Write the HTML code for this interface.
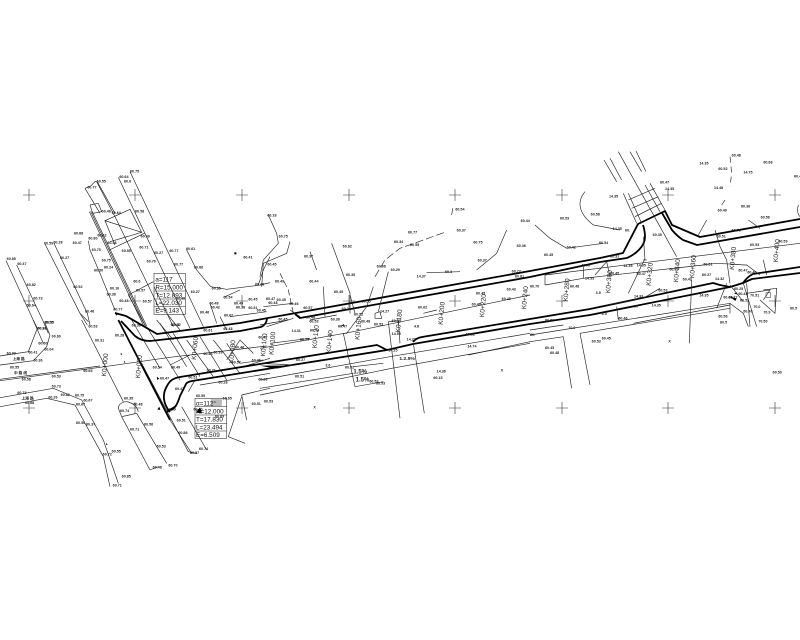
<!DOCTYPE html>
<html><head><meta charset="utf-8"><style>
html,body{margin:0;padding:0;background:#fff;width:800px;height:640px;overflow:hidden}
svg{display:block;font-family:"Liberation Sans",sans-serif}
.t polyline,.t path,.t line{fill:none;stroke:#222;stroke-width:.65;vector-effect:non-scaling-stroke}
.k polyline,.k path{fill:none;stroke:#000;stroke-width:1.8;stroke-linejoin:round;vector-effect:non-scaling-stroke}
.c path{fill:none;stroke:#333;stroke-width:.6}
.l text{font-size:11px;font-weight:bold;fill:#222}
.b text{font-size:19px;fill:#111}
.v text{font-size:20px;fill:#222}
</style></head><body>
<svg width="800" height="640" viewBox="0 0 800 640" xmlns="http://www.w3.org/2000/svg">
<g class="c"><path d="M23 195h12M29 189v12M129 195h12M135 189v12M236 195h12M242 189v12M343 195h12M349 189v12M449 195h12M455 189v12M556 195h12M562 189v12M662 195h12M668 189v12M769 195h12M775 189v12
M23 301h12M29 295v12M129 301h12M135 295v12M236 301h12M242 295v12M343 301h12M349 295v12M449 301h12M455 295v12M556 301h12M562 295v12M662 301h12M668 295v12M769 301h12M775 295v12
M23 408h12M29 402v12M129 408h12M135 402v12M236 408h12M242 402v12M343 408h12M349 402v12M449 408h12M455 402v12M556 408h12M562 402v12M662 408h12M668 402v12M769 408h12M775 402v12"/></g>

<!-- zoom 1 -->
<g transform="translate(0,170) scale(.33333)">
<g class="t">
<polyline points="18,272 95,440 130,520"/><polyline points="50,285 130,455 145,490"/>
<polyline points="135,222 240,430 262,465"/><polyline points="162,220 262,430 270,465"/><polyline points="240,430 265,455"/>
<polyline points="255,55 272,48 285,35 292,35 345,130"/><polyline points="255,55 300,130"/>
<polyline points="270,105 295,100 305,125 278,130 270,105"/>
<polyline points="268,125 432,470"/><polyline points="272,124 436,468"/><polyline points="276,124 440,468"/>
<polyline points="290,35 350,150 480,420"/>
<polyline points="355,22 570,475"/><polyline points="390,5 610,470"/>
<polyline points="315,152 390,118 425,187 315,152 345,225"/><polyline points="328,240 433,190"/><polyline points="330,215 425,187"/>
<polyline points="265,212 270,240 300,310 345,420"/>
<polyline points="560,240 590,300 632,350 680,358 780,345 810,338"/><polyline points="810,260 790,300 775,345"/>
<polyline points="385,375 460,335"/><polyline points="385,375 440,475"/>
<polyline points="675,380 720,360"/><polyline points="690,440 800,425"/><polyline points="630,400 650,460"/><polyline points="462,350 520,470"/><polyline points="500,430 540,480"/><polyline points="660,440 680,480"/>
</g>
<g class="l">
<text x="20" y="270">60.85</text><text x="52" y="285">60.47</text><text x="80" y="348">60.82</text><text x="100" y="388">60.73</text><text x="80" y="410">60.64</text><text x="135" y="460">60.32</text><text x="112" y="478">60.91</text>
<text x="132" y="223">60.59</text><text x="160" y="220">60.28</text><text x="222" y="194">60.68</text><text x="218" y="222">60.47</text><text x="180" y="267">60.27</text><text x="220" y="354">60.52</text><text x="255" y="428">60.46</text><text x="265" y="472">60.53</text>
<text x="262" y="55">60.77</text><text x="290" y="37">60.55</text><text x="358" y="24">60.64</text><text x="390" y="8">60.75</text><text x="372" y="38">60.6</text>
<text x="305" y="128">60.48</text><text x="335" y="132">60.64</text><text x="405" y="128">60.58</text><text x="422" y="202">60.49</text><text x="292" y="200">60.62</text>
<text x="265" y="208">60.80</text><text x="275" y="243">60.75</text><text x="322" y="222">60.48</text><text x="365" y="246">60.55</text><text x="418" y="236">60.71</text><text x="462" y="252">60.27</text><text x="508" y="246">60.77</text><text x="558" y="240">60.61</text>
<text x="305" y="275">60.75</text><text x="440" y="277">60.76</text><text x="522" y="286">60.77</text><text x="582" y="295">60.66</text><text x="282" y="304">60.50</text><text x="312" y="296">60.24</text>
<text x="400" y="338">60.6</text><text x="408" y="364">60.57</text><text x="330" y="358">60.16</text><text x="320" y="377">60.38</text><text x="340" y="422">60.77</text><text x="358" y="396">60.48</text><text x="428" y="398">60.57</text><text x="395" y="470">60.36</text>
<text x="730" y="265">60.41</text><text x="635" y="358">60.35</text><text x="765" y="347">60.48</text><text x="572" y="369">60.27</text><text x="670" y="385">60.54</text><text x="702" y="403">60.49</text><text x="745" y="392">60.45</text><text x="628" y="404">60.48</text><text x="632" y="416">60.42</text><text x="600" y="430">60.46</text><text x="745" y="417">60.51</text><text x="672" y="440">60.62</text><text x="708" y="415">60.38</text><text x="512" y="468">60.47</text><text x="528" y="388">60.46</text><text x="770" y="425">60.45</text>
</g>
<path d="M703 247h6v6h-6z" fill="#000"/>
<path d="M345 425l8 8-5 4z" fill="#000"/>
<rect x="462" y="310" width="94" height="123" fill="none" stroke="#222" stroke-width="1.6"/>
<path d="M462 340H556M462 363H556M462 387H556M462 410H556" stroke="#222" stroke-width="1.6" fill="none"/>
<g class="b"><text x="466" y="334">a=117</text><text x="466" y="358">R=15.000</text><text x="466" y="382">T=12.893</text><text x="466" y="405">L=22.030</text><text x="466" y="428">E=9.143</text></g>
</g>

<!-- zoom 2 -->
<g transform="translate(0,320) scale(.33333)">
<g class="t">
<polyline points="100,0 112,25 85,95 18,105 0,108"/><polyline points="135,10 150,45 140,80 100,122 0,135"/>
<polyline points="0,182 300,142 510,112 800,78"/><polyline points="0,178 300,138"/>
<polyline points="0,233 160,205 245,240 310,360 355,490"/><polyline points="0,260 140,235 225,255 310,410 330,500"/>
<polyline points="245,0 370,245"/><path d="M355,265 C355,250 375,240 390,248 C405,252 412,265 415,275"/><polyline points="365,290 450,450"/><polyline points="410,280 500,430"/><polyline points="355,265 365,290 410,280"/><polyline points="450,450 475,440"/>
<polyline points="425,130 565,395 590,400"/><polyline points="510,300 575,400"/><polyline points="545,260 620,390"/>
<polyline points="725,225 810,205"/><polyline points="725,230 685,350 735,370"/><polyline points="725,225 740,300"/>
<polyline points="395,0 480,145"/><polyline points="440,20 540,180"/><polyline points="480,10 560,140"/><polyline points="520,40 600,170"/><polyline points="560,60 640,170"/>
<polyline points="600,50 680,180"/><polyline points="640,60 720,160"/>
<polyline points="510,135 570,105"/><polyline points="600,195 810,160"/><polyline points="470,0 520,60"/>
<polyline points="680,70 720,130 790,120"/><polyline points="680,120 720,60 760,100"/><polyline points="730,140 810,115"/><polyline points="565,215 585,180"/>
</g>
<g class="k"><polyline points="355,0 510,300"/></g>
<g class="l">
<text x="20" y="103">60.93</text><text x="85" y="100">60.41</text><text x="30" y="145">60.55</text><text x="100" y="124">60.36</text><text x="112" y="28">60.24</text><text x="133" y="11">60.55</text><text x="155" y="52">60.60</text><text x="115" y="74">60.60</text><text x="133" y="92">60.04</text>
<text x="38" y="120">上海 路</text><text x="42" y="162">中 路 线</text><text x="65" y="182">60.58</text><text x="155" y="172">60.53</text><text x="250" y="156">60.65</text>
<text x="52" y="222">60.79</text><text x="155" y="203">60.73</text><text x="182" y="228">60.82</text><text x="225" y="229">60.75</text><text x="250" y="244">60.67</text><text x="65" y="238">上海 路</text><text x="145" y="236">60.26</text><text x="75" y="252">60.68</text><text x="228" y="256">60.67</text>
<text x="228" y="312">60.56</text><text x="258" y="317">60.37</text><text x="335" y="397">60.55</text><text x="308" y="406">60.72</text><text x="365" y="472">60.85</text><text x="338" y="500">60.71</text>
<text x="372" y="238">60.35</text><text x="400" y="256">60.48</text><text x="360" y="276">60.74</text><text x="390" y="332">60.71</text><text x="432" y="316">60.56</text><text x="470" y="382">60.53</text><text x="505" y="440">60.70</text><text x="458" y="445">60.48</text>
<text x="285" y="64">60.31</text><text x="345" y="50">60.28</text><text x="513" y="146">60.49</text><text x="458" y="146">60.54</text><text x="480" y="178">60.47</text><text x="565" y="175">60.51</text><text x="620" y="155">60.71</text><text x="655" y="190">60.28</text>
<text x="515" y="18">60.42</text><text x="610" y="35">60.61</text><text x="670" y="30">60.48</text><text x="775" y="55">60.47</text><text x="610" y="105">60.43</text><text x="640" y="100">60.39</text><text x="705" y="85">60.46</text><text x="695" y="130">60.57</text><text x="775" y="182">60.33</text><text x="755" y="125">60.36</text>
<text x="588" y="231">60.59</text><text x="668" y="238">60.65</text><text x="580" y="272">60.40</text><text x="645" y="292">60.69</text><text x="755" y="255">60.51</text><text x="535" y="342">60.86</text><text x="597" y="390">60.74</text><text x="570" y="402">60.57</text><text x="530" y="305">60.51</text><text x="500" y="272">60.49</text><text x="525" y="210">60.47</text>
</g>
<g class="v">
<text transform="translate(318,170) rotate(-85)">K0+000</text><text transform="translate(420,175) rotate(-85)">K0+020</text><text transform="translate(588,120) rotate(-85)">K0+060</text><text transform="translate(700,130) rotate(-85)">K0+080</text><text transform="translate(795,110) rotate(-85)">K0+100</text>
</g>
<path d="M472,268l6,-8 3,10zM362,98l5,5-4,2zM372,122l4,5-4,1zM318,368l5,7-4,0z" fill="#000"/>
<path d="M588 278L600 262 606 280zM470 170l8 6-6 4z" fill="#000"/>
<rect x="633" y="238" width="32" height="20" fill="#bbb" stroke="#555" stroke-dasharray="2 1" stroke-width=".5"/>
<rect x="585" y="235" width="95" height="120" fill="none" stroke="#222" stroke-width="1.6"/>
<path d="M585 260H680M585 285H680M585 310H680M585 333H680" stroke="#222" stroke-width="1.6" fill="none"/>
<g class="b"><text x="588" y="256">α=112°</text><text x="588" y="281">R=12.000</text><text x="588" y="305">T=17.830</text><text x="588" y="329">L=23.494</text><text x="588" y="351">E=6.509</text></g>
</g>

<!-- thick roads -->
<g class="k">
<polyline points="115,313 126,316 157,334 240,323 530,271 600,258 623,253 638,224 665,211 672,225 700,237 800,219"/>
<path d="M121,321 L135,336 Q141,341 150,341 L240,331 L261,327 Q266,325 267,319"/>
<path d="M295,314 L300,318 L530,277 L600,262 L627,258 C636,254 645,246 645,237 C645,232 644,228 643,225"/>
<path d="M662,213 L672,230 C677,236 680,238 683,240 L697,245 L800,227"/>
<path d="M170,412 C163,404 162,394 167,386 C170,380 174,378 180,377 L260,364 L377,345 L387,350"/>
<path d="M171,410 C176,408 178,402 180,396 L186,384 Q187,382 192,381 L273,368 L387,350 L413,344 L530,324 L590,315 L730,287 L743,283"/>
<path d="M413,342 Q416,338 422,337 L530,319 L590,309 L713,283 L720,285 L730,287"/>
<path d="M743,283 Q747,277 753,274 L800,267"/>
<path d="M743,283 L752,279 L800,273"/>
<polyline points="167,412 176,406"/>
</g>

<!-- zoom 3 -->
<g transform="translate(260,200) scale(.33333)">
<g class="t">
<polyline points="25,45 50,100 55,130 10,180 0,230"/><polyline points="90,125 80,160 10,190 5,260"/>
<polyline points="60,220 85,270 100,340" stroke-dasharray="6 3"/>
<polyline points="150,155 170,210"/><polyline points="215,130 270,280 270,340"/>
<polyline points="345,230 375,180 420,145 560,95" stroke-dasharray="8 3"/>
<polyline points="385,215 355,335"/><polyline points="500,218 600,215"/><polyline points="740,90 710,160 650,210"/><polyline points="578,25 575,45"/>
<polyline points="190,260 195,350"/><polyline points="340,260 320,320 260,400 250,400"/>
<polyline points="0,445 270,397 810,285"/><polyline points="150,360 230,345"/>
<polyline points="0,540 390,470 810,400"/><polyline points="0,585 395,505 810,430"/><polyline points="0,565 280,520"/>
<polyline points="385,365 420,655"/><polyline points="385,365 415,362 420,430"/><polyline points="460,430 493,640"/>
<polyline points="250,400 285,560 370,545"/><polyline points="280,500 370,490"/><polyline points="490,340 530,330"/>
<polyline points="625,465 810,425"/><polyline points="30,430 150,415"/><polyline points="345,340 360,335 365,355 345,355 345,340"/>
<polyline points="0,490 100,495 50,505" /><polyline points="0,375 85,360"/><polyline points="20,380 100,355"/><polyline points="270,285 285,340"/><polyline points="10,320 100,310"/><polyline points="90,330 120,350"/>
</g>
<g class="l">
<text x="22" y="50">60.18</text><text x="56" y="113">60.75</text><text x="22" y="197">60.45</text><text x="45" y="248">60.49</text><text x="132" y="172">60.37</text><text x="148" y="247">60.44</text><text x="222" y="279">60.45</text><text x="248" y="143">60.62</text><text x="258" y="228">60.35</text>
<text x="350" y="203">60.68</text><text x="392" y="213">60.29</text><text x="402" y="129">60.34</text><text x="450" y="138">60.55</text><text x="444" y="101">60.77</text><text x="590" y="95">60.37</text><text x="586" y="32">60.54</text><text x="640" y="130">60.75</text><text x="653" y="184">60.37</text><text x="770" y="141">60.36</text><text x="782" y="66">60.44</text><text x="470" y="232">14.37</text><text x="555" y="219">60.3</text>
<text x="755" y="217">60.72</text><text x="765" y="232">60.61</text><text x="740" y="272">60.43</text><text x="725" y="300">60.45</text><text x="648" y="284">60.45</text><text x="635" y="316">60.46</text><text x="474" y="325">60.62</text><text x="305" y="308">60.55</text><text x="245" y="330">60.71</text><text x="282" y="347">60.52</text>
<text x="18" y="300">60.47</text><text x="25" y="312">60.48</text><text x="50" y="303">60.45</text><text x="88" y="315">60.46</text><text x="130" y="327">60.57</text><text x="138" y="355">60.48</text><text x="148" y="367">60.53</text><text x="55" y="362">60.45</text><text x="212" y="362">60.38</text><text x="234" y="382">60.47</text><text x="303" y="368">60.48</text><text x="342" y="376">60.53</text><text x="360" y="338">14.27</text><text x="395" y="366">60.39</text><text x="395" y="405">14.55</text>
<text x="95" y="396">14.31</text><text x="120" y="422">60.28</text><text x="150" y="395">60.74</text><text x="462" y="383">4.8</text><text x="440" y="421">14.22</text><text x="385" y="454">14.25</text><text x="617" y="406">60.31</text><text x="622" y="442">14.74</text>
<text x="108" y="483">60.27</text><text x="196" y="500">3.6</text><text x="255" y="506">60.52</text><text x="105" y="532">60.51</text><text x="328" y="547">60.53</text><text x="348" y="553">60.53</text><text x="12" y="607">60.53</text><text x="520" y="537">60.15</text><text x="530" y="517">14.36</text><text x="722" y="515">X</text><text x="160" y="625">X</text>
<text x="418" y="480" style="font-size:15px">1.2.5%</text>
<text x="280" y="520" style="font-size:18px">1.5%</text><text x="287" y="545" style="font-size:18px">1.5%</text>
</g>
<g class="v">
<text transform="translate(170,445) rotate(-85)">K0+120</text><text transform="translate(212,460) rotate(-85)">K0+140</text><text transform="translate(298,420) rotate(-85)">K0+160</text><text transform="translate(420,398) rotate(-85)">K0+180</text><text transform="translate(548,375) rotate(-85)">K0+200</text><text transform="translate(672,352) rotate(-85)">K0+220</text><text transform="translate(798,328) rotate(-85)">K0+240</text><text transform="translate(40,465) rotate(-85)">K0+100</text>
</g>
<path d="M240,380l12-8v5zM0,497 L90,497 40,505z" fill="#000"/>
</g>

<!-- zoom 4 -->
<g transform="translate(530,150) scale(.33333)">
<g class="t">
<polyline points="222,30 260,95"/><polyline points="240,25 275,90"/><polyline points="318,3 348,65"/><polyline points="300,5 335,65"/>
<polyline points="265,5 440,320"/><polyline points="485,390 478,580"/>
<polyline points="280,130 320,220"/><polyline points="295,130 335,220"/><polyline points="360,100 405,180"/><polyline points="345,105 390,185"/><polyline points="295,150 375,115"/><polyline points="305,175 385,140"/><polyline points="315,200 395,160"/>
<polyline points="45,375 810,280"/><polyline points="45,405 160,385 520,345"/><polyline points="45,375 45,405"/><polyline points="160,350 160,385"/><polyline points="195,375 230,335 240,380"/>
<polyline points="0,555 600,460 600,490"/><polyline points="150,550 600,475"/><polyline points="150,550 180,705"/><polyline points="100,560 125,715"/><polyline points="0,575 100,560"/><polyline points="0,540 100,525"/>
<polyline points="640,400 680,530"/><polyline points="650,400 660,530"/><polyline points="700,420 740,415 735,490 690,450"/><polyline points="600,460 640,490 655,530"/>
<path d="M165,125 C140,155 145,190 190,225 L270,240"/>
<polyline points="15,225 60,265 110,295 220,280"/>
<polyline points="555,240 570,290 590,330 600,400"/><polyline points="530,210 505,255"/><polyline points="600,20 605,70 600,110" stroke-dasharray="6 4"/><polyline points="585,150 575,165"/><polyline points="655,210 690,235"/>
<path d="M805,165 C800,185 805,195 810,200"/><path d="M520,345 C560,335 620,345 650,345 L690,375"/><polyline points="700,330 710,375"/><polyline points="260,470 265,510"/>
<polyline points="340,330 350,330"/><polyline points="230,465 340,445 390,415"/><polyline points="345,325 295,430"/><polyline points="310,520 600,465"/><polyline points="590,400 560,475"/><polyline points="340,260 345,330"/>
<polyline points="650,430 720,420 700,450"/><polyline points="600,405 640,455"/>
</g>
<g class="l">
<text x="605" y="20">60.48</text><text x="508" y="43">14.35</text><text x="565" y="60">60.52</text><text x="640" y="70">14.75</text><text x="700" y="40">60.68</text><text x="792" y="82">60.45</text><text x="390" y="100">60.47</text><text x="405" y="120">14.35</text><text x="552" y="117">14.48</text><text x="237" y="143">14.35</text><text x="563" y="185">60.49</text><text x="633" y="172">60.36</text><text x="692" y="205">60.56</text>
<text x="90" y="209">60.53</text><text x="182" y="197">60.58</text><text x="248" y="240">14.35</text><text x="285" y="245">60.</text><text x="368" y="258">60.35</text><text x="207" y="282">60.54</text><text x="110" y="296">60.42</text><text x="42" y="318">60.45</text><text x="240" y="322">60.31</text><text x="605" y="245">60.75</text><text x="560" y="262">60.51</text><text x="660" y="288">60.53</text><text x="745" y="278">60.59</text><text x="155" y="350">60.47</text>
<text x="280" y="351">14.35</text><text x="320" y="350">14.35</text><text x="320" y="375">60.47</text><text x="240" y="373">60.45</text><text x="165" y="388">14.35</text><text x="120" y="412">60.48</text><text x="0" y="412">60.70</text><text x="520" y="346">60.51</text><text x="418" y="362">60.33</text><text x="516" y="378">60.27</text><text x="555" y="390">14.32</text><text x="625" y="365">60.47</text><text x="652" y="370">60.46</text><text x="458" y="391">60.43</text><text x="385" y="424">60.53</text><text x="197" y="432">3.5</text><text x="508" y="440">14.35</text>
<text x="312" y="442">14.33</text><text x="215" y="495">6.0</text><text x="312" y="472">60</text><text x="365" y="470">14.35</text><text x="45" y="514">60.53</text><text x="265" y="508">60.46</text><text x="115" y="537">10.0</text><text x="0" y="558">60.</text>
<text x="565" y="502">60.56</text><text x="570" y="520">60.5</text><text x="640" y="487">60.49</text><text x="670" y="474">70.0</text><text x="700" y="491">70.9</text><text x="685" y="518">70.50</text><text x="660" y="440">70.51</text><text x="780" y="479">60.5</text><text x="580" y="445">60.46</text><text x="595" y="445">60.27</text><text x="625" y="435">60.43</text><text x="630" y="455">60.51</text><text x="612" y="420">60.25</text>
<text x="215" y="568">60.45</text><text x="185" y="578">60.53</text><text x="45" y="597">60.45</text><text x="60" y="612">60.48</text><text x="415" y="578">X</text><text x="728" y="670">60.50</text>
</g>
<g class="v">
<text transform="translate(113,455) rotate(-85)">K0+280</text><text transform="translate(240,430) rotate(-85)">K0+300</text><text transform="translate(362,408) rotate(-85)">K0+320</text><text transform="translate(444,397) rotate(-85)">K0+340</text><text transform="translate(492,385) rotate(-85)">K0+360</text><text transform="translate(612,360) rotate(-85)">K0+380</text><text transform="translate(743,337) rotate(-85)">K0+400</text>
</g>
<path d="M708 428h14v14h-14z" fill="none" stroke="#222" stroke-width="1.5"/>
<path d="M600 440l20 5-4 8zM612 430l8-3 0 6z" fill="#000"/>
</g>
</svg>
</body></html>
